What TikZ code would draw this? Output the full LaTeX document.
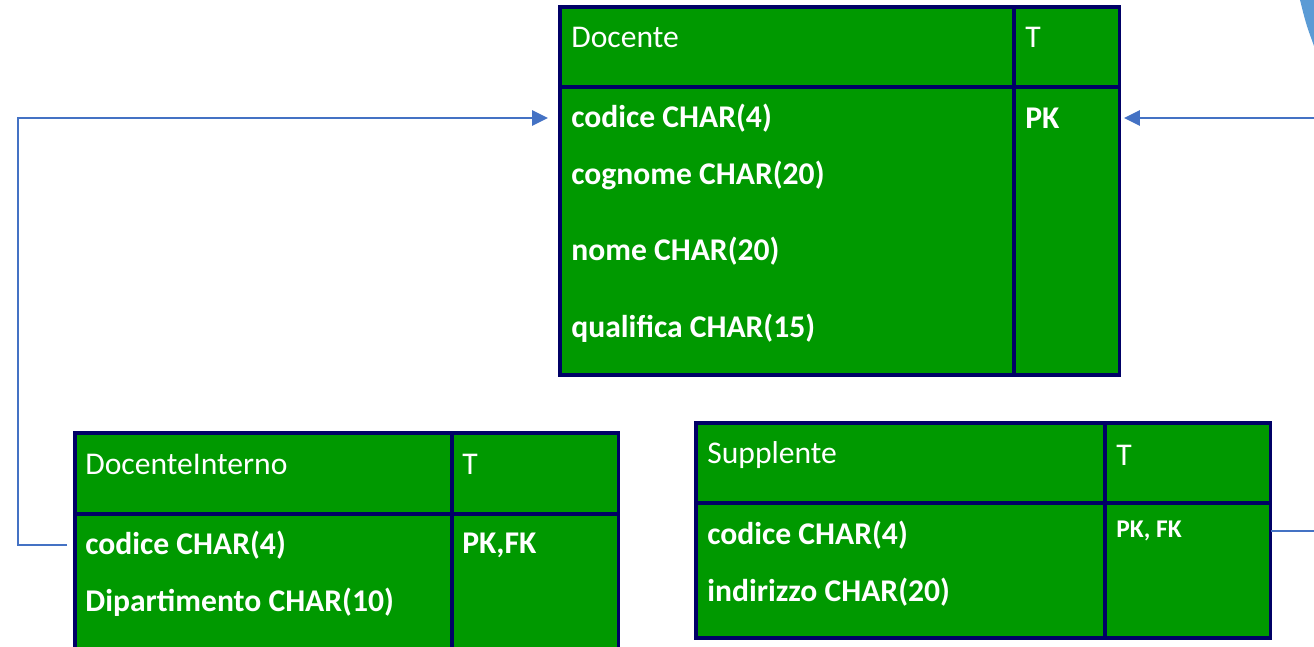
\documentclass[tikz,border=0pt]{standalone}
\usepackage{fontspec}
\setmainfont{Carlito}
\usetikzlibrary{
  positioning,
  arrows.meta
}
\definecolor{tblgreen}{RGB}{0,153,0}
\definecolor{tblline}{RGB}{0,0,102}
\definecolor{linkblue}{RGB}{68,114,196}
\definecolor{shapeblue}{RGB}{91,155,213}

\begin{document}
\begin{tikzpicture}[x=0.02cm, y=-0.02cm,
  cell/.style={rectangle, draw=tblline, fill=tblgreen, line width=1.8pt, outer sep=0pt, inner sep=0pt},
  title/.style={anchor=west, inner sep=0pt, text=white, font=\fontsize{18}{21}\selectfont},
  attr/.style={title, font=\fontsize{18}{21}\selectfont\bfseries},
  smallkey/.style={title, font=\fontsize{14.5}{17}\selectfont\bfseries},
  link/.style={draw=linkblue, line width=1.5pt},
  >={Triangle[length=0.32cm, width=0.3cm]}]
\clip (0,0) rectangle (1314,646);

% Docente
\node[cell, anchor=north west, minimum width=9.08cm, minimum height=1.6cm] (doc-name) at (560,7) {};
\node[cell, minimum width=2.12cm, minimum height=1.6cm, right=0pt of doc-name] (doc-type) {};
\node[cell, minimum width=9.08cm, minimum height=5.76cm, below=0pt of doc-name] (doc-body) {};
\node[cell, minimum width=2.12cm, minimum height=5.76cm, below=0pt of doc-type] (doc-key) {};
\node[title] (doc-title) at (571,37) {Docente};
\node[title] (doc-t) at (1025,37) {T};
\node[attr] (doc-a1) at (571,118) {codice CHAR(4)};
\node[attr] (doc-a2) at (571,175) {cognome CHAR(20)};
\node[attr] (doc-a3) at (571,251) {nome CHAR(20)};
\node[attr] (doc-a4) at (571,328) {qualifica CHAR(15)};
\node[attr] (doc-pk) at (1025,118) {PK};

% DocenteInterno
\node[cell, anchor=north west, minimum width=7.54cm, minimum height=1.62cm] (dint-name) at (75,433) {};
\node[cell, minimum width=3.34cm, minimum height=1.62cm, right=0pt of dint-name] (dint-type) {};
\node[cell, minimum width=7.54cm, minimum height=3.2cm, below=0pt of dint-name] (dint-body) {};
\node[cell, minimum width=3.34cm, minimum height=3.2cm, below=0pt of dint-type] (dint-key) {};
\node[title] (dint-title) at (85,464) {DocenteInterno};
\node[title] (dint-t) at (462,464) {T};
\node[attr] (dint-a1) at (85,545) {codice CHAR(4)};
\node[attr] (dint-a2) at (85,602) {Dipartimento CHAR(10)};
\node[attr] (dint-pk) at (462,545) {PK,FK};

% Supplente
\node[cell, anchor=north west, minimum width=8.18cm, minimum height=1.6cm] (supp-name) at (696,423) {};
\node[cell, minimum width=3.32cm, minimum height=1.6cm, right=0pt of supp-name] (supp-type) {};
\node[cell, minimum width=8.18cm, minimum height=2.7cm, below=0pt of supp-name] (supp-body) {};
\node[cell, minimum width=3.32cm, minimum height=2.7cm, below=0pt of supp-type] (supp-key) {};
\node[title] (supp-title) at (707,455) {Supplente};
\node[title] (supp-t) at (1116,455) {T};
\node[attr] (supp-a1) at (707,535) {codice CHAR(4)};
\node[attr] (supp-a2) at (707,592) {indirizzo CHAR(20)};
\node[smallkey] (supp-pk) at (1116,531) {PK, FK};

% links
\draw[link,->] ([xshift=-0.16cm]dint-body.west |- dint-a1) -- ++(-49,0) |- ([xshift=-0.24cm]doc-body.west |- doc-a1);
\draw[link,->] (supp-key.east |- supp-pk) -- ++(70,0) |- ([xshift=0.08cm]doc-key.east |- doc-pk);

% corner shape
\fill[shapeblue] (1300,0) -- (1314,0) -- (1314,46) .. controls (1306,24) .. (1300,0);
\end{tikzpicture}
\end{document}
